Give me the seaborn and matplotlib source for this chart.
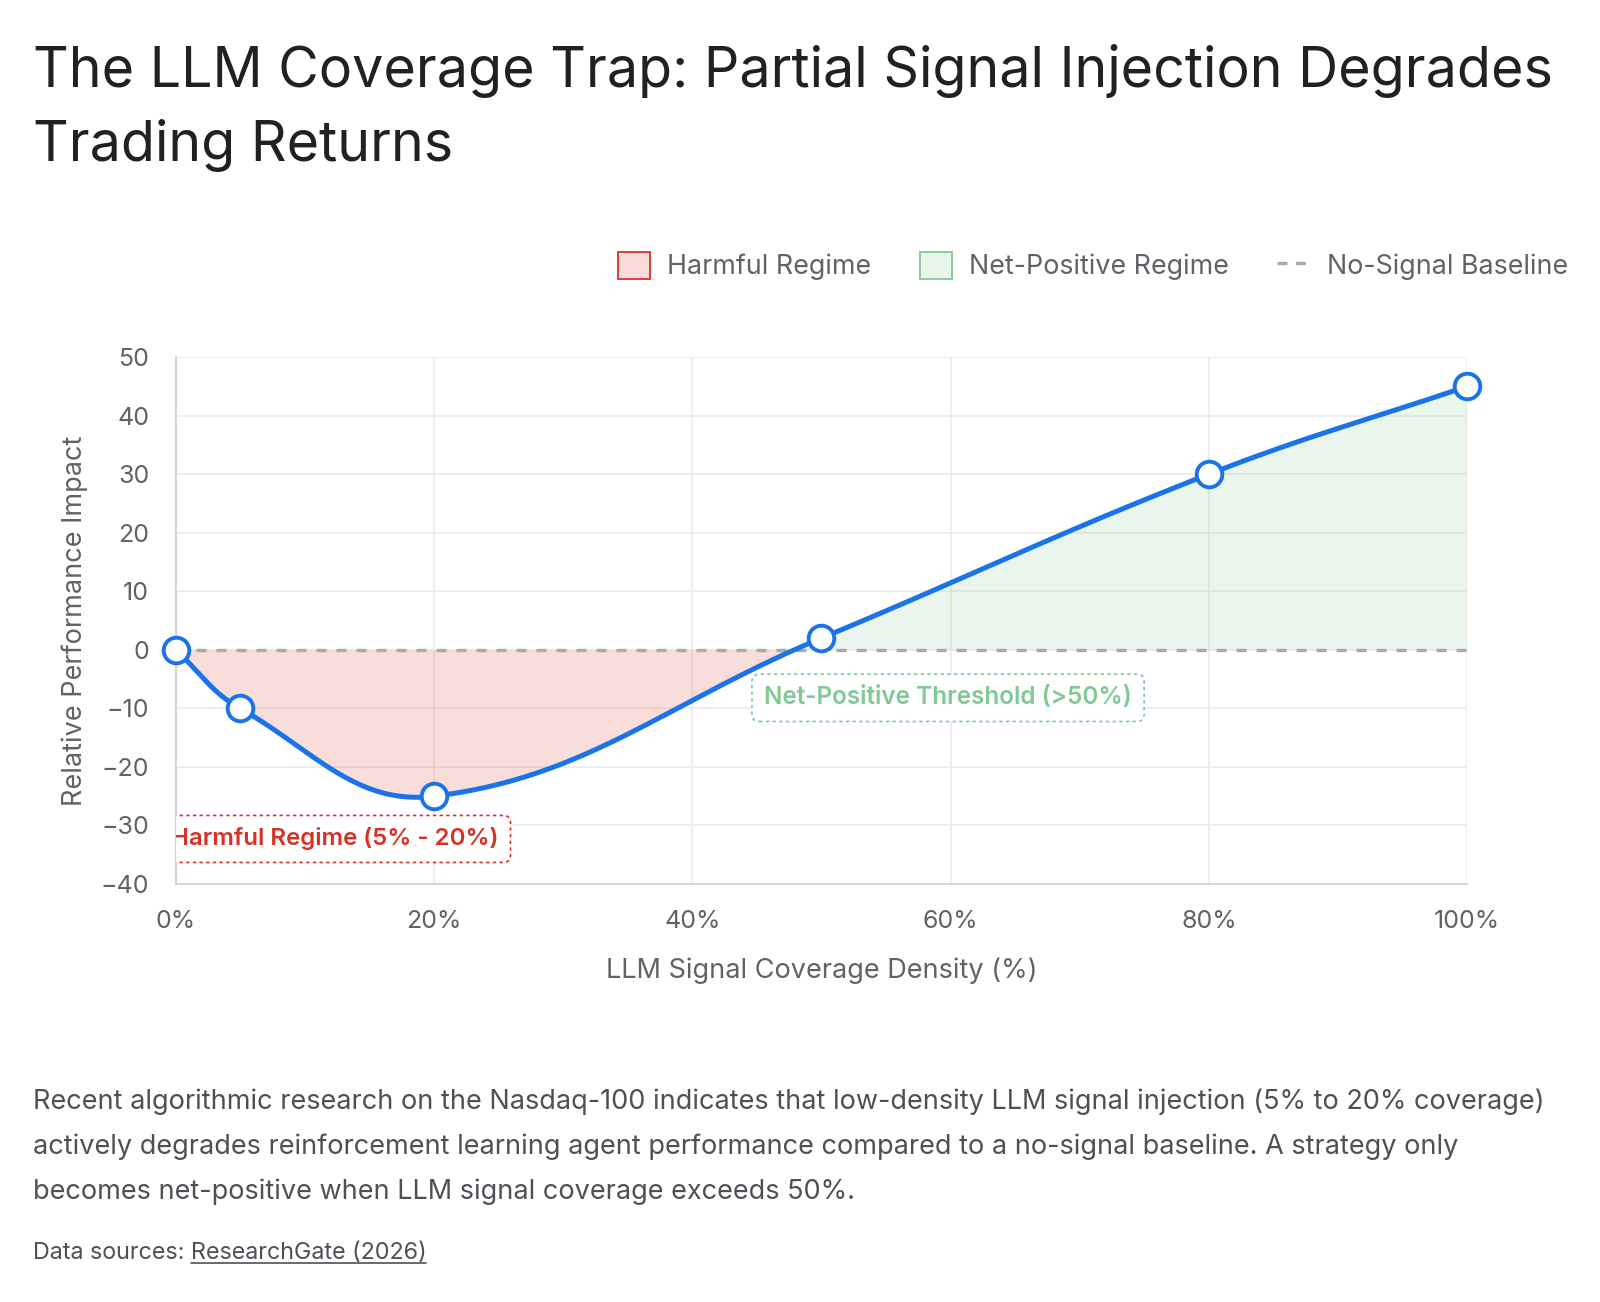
import numpy as np
import pandas as pd
import seaborn as sns
import matplotlib.pyplot as plt
from matplotlib.patches import Patch
from matplotlib.lines import Line2D

# data
coverage = [0, 5, 20, 50, 80, 100]
impact = [0, -10, -25, 2, 30, 45]
x_ticks = [0, 20, 40, 60, 80, 100]
x_labels = ["0%", "20%", "40%", "60%", "80%", "100%"]
y_ticks = [-40, -30, -20, -10, 0, 10, 20, 30, 40, 50]

title = "The LLM Coverage Trap: Partial Signal Injection Degrades\nTrading Returns"
caption = [
    "Recent algorithmic research on the Nasdaq-100 indicates that low-density LLM signal injection (5% to 20% coverage)",
    "actively degrades reinforcement learning agent performance compared to a no-signal baseline. A strategy only",
    "becomes net-positive when LLM signal coverage exceeds 50%.",
]

BLUE = "#1a73e8"
RED = "#d93025"
GREEN = "#81c995"
GRID = "#ebebeb"
TXT = "#5f6368"

sns.set_theme(style="white")
plt.rcParams['font.family'] = ['Inter', 'DejaVu Sans']

fig = plt.figure(figsize=(16, 13.02), dpi=100)
ax = fig.add_axes([0.1097, 0.321, 0.8074, 0.4048])
ax.set_xlim(0, 100)
ax.set_ylim(-40, 50)

# smooth curve like a tension-0.4 spline, computed in pixel space
pts = ax.transData.transform(np.column_stack([coverage, impact]))
n = len(pts)
t = 0.4
cprev, cnext = [], []
for i in range(n):
    p = pts[max(i - 1, 0)]
    c = pts[i]
    q = pts[min(i + 1, n - 1)]
    d01 = np.hypot(*(c - p))
    d12 = np.hypot(*(q - c))
    s01 = d01 / (d01 + d12) if d01 + d12 else 0
    s12 = d12 / (d01 + d12) if d01 + d12 else 0
    cprev.append(c - t * s01 * (q - p))
    cnext.append(c + t * s12 * (q - p))
curve = []
u = np.linspace(0, 1, 80)[:, None]
for i in range(n - 1):
    a, b, c2, d = pts[i], cnext[i], cprev[i + 1], pts[i + 1]
    seg = (1 - u) ** 3 * a + 3 * (1 - u) ** 2 * u * b + 3 * (1 - u) * u ** 2 * c2 + u ** 3 * d
    curve.append(seg if i == 0 else seg[1:])
curve = ax.transData.inverted().transform(np.vstack(curve))
line_df = pd.DataFrame({"x": curve[:, 0], "y": curve[:, 1]})

ax.fill_between(line_df.x, line_df.y, 0, where=line_df.y <= 0, interpolate=True,
                color=RED, alpha=0.16, lw=0, zorder=1)
ax.fill_between(line_df.x, line_df.y, 0, where=line_df.y >= 0, interpolate=True,
                color=GREEN, alpha=0.17, lw=0, zorder=1)
ax.plot([0, 100], [0, 0], color="#aaaaaa", lw=2.4, dashes=(3, 3), zorder=2)

sns.lineplot(data=line_df, x="x", y="y", ax=ax, color=BLUE, lw=3.6, sort=False,
             estimator=None, zorder=3)
sns.scatterplot(x=coverage, y=impact, ax=ax, s=340, color="white", edgecolor=BLUE,
                linewidth=2.8, zorder=4, clip_on=False)

ax.text(25, -32.3, "Harmful Regime (5% - 20%)", color=RED, fontsize=17.3, fontweight="semibold",
        ha="right", va="center", clip_on=True, zorder=5,
        bbox=dict(boxstyle="round,pad=0.5,rounding_size=0.3", fc="white", ec=RED,
                  lw=1.2, ls=(0, (2, 2))))
ax.text(59.8, -8.2, "Net-Positive Threshold (>50%)", color=GREEN, fontsize=17.5, fontweight="semibold",
        ha="center", va="center", zorder=5,
        bbox=dict(boxstyle="round,pad=0.5,rounding_size=0.3", fc="white", ec=GREEN,
                  lw=1.2, ls=(0, (2, 2))))

ax.set_xticks(x_ticks)
ax.set_xticklabels(x_labels)
ax.set_yticks(y_ticks)
ax.grid(True, color=GRID, lw=1.2)
ax.tick_params(axis="both", length=12, width=1.2, color=GRID, labelsize=18, labelcolor=TXT, pad=7)
for s in ["top", "right"]:
    ax.spines[s].set_visible(False)
for s in ["left", "bottom"]:
    ax.spines[s].set_color("#d6d6d6")
    ax.spines[s].set_linewidth(1.5)
ax.set_xlabel("LLM Signal Coverage Density (%)", fontsize=19.5, color=TXT)
ax.set_ylabel("Relative Performance Impact", fontsize=19.5, color=TXT)
ax.xaxis.set_label_coords(0.5, -0.14)
ax.yaxis.set_label_coords(-0.068, 0.5)

handles = [
    Patch(facecolor="#f9dcda", edgecolor=RED, lw=1.3, label="Harmful Regime"),
    Patch(facecolor="#e8f5eb", edgecolor=GREEN, lw=1.3, label="Net-Positive Regime"),
    Line2D([], [], color="#aaaaaa", lw=2.4, dashes=(3, 2.5), label="No-Signal Baseline"),
]
fig.legend(handles=handles, loc="center right", bbox_to_anchor=(0.98, 0.7957), ncol=3,
           frameon=False, fontsize=19.3, labelcolor=TXT, handlelength=1.2, handleheight=1.2,
           handletextpad=0.65, columnspacing=1.8, borderaxespad=0, borderpad=0)

fig.text(0.0204, 0.966, title, fontsize=40, color="#202124", ha="left", va="top", linespacing=1.5)

for i, line in enumerate(caption):
    fig.text(0.0204, 1 - (1102 + 45 * i) / 1302, line, fontsize=19.5, color="#4d5156",
             ha="left", va="center")

t1 = fig.text(0.0204, 0.0376, "Data sources: ", fontsize=16.8, color="#4d5156", ha="left", va="center")
r = fig.canvas.get_renderer()
bb = t1.get_window_extent(r)
t2 = fig.text(bb.x1 / 1600, 0.0376, "ResearchGate (2026)", fontsize=16.8, color="#4d5156",
              ha="left", va="center")
bb2 = t2.get_window_extent(r)
fig.add_artist(Line2D([bb2.x0 / 1600, bb2.x1 / 1600], [(bb2.y0 + 1) / 1302] * 2,
                      color="#4d5156", lw=1.2))

fig.savefig("out.png", dpi=100)
